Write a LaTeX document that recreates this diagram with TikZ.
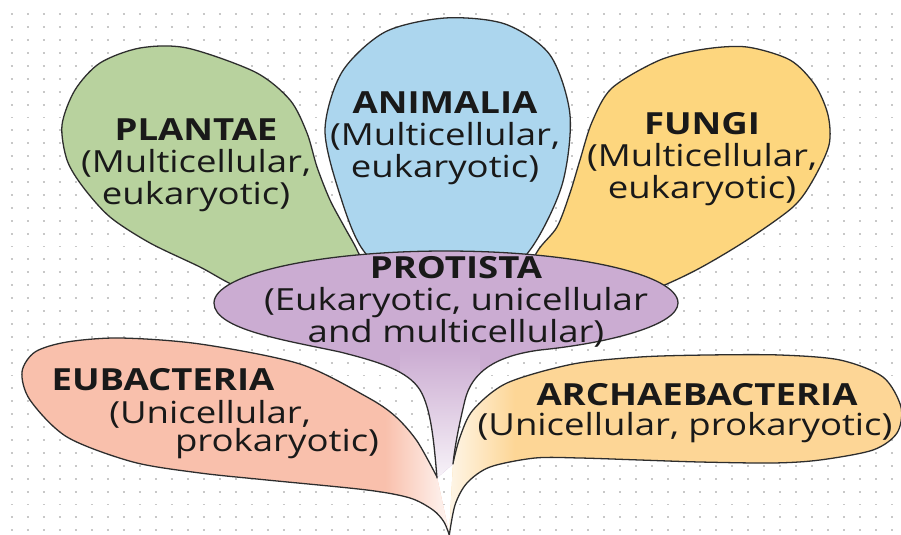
\documentclass[tikz,border=0pt]{standalone}
\usepackage{fontspec}
\setmainfont[FakeStretch=1.2]{Open Sans}
\definecolor{plantc}{RGB}{184,210,158}
\definecolor{animc}{RGB}{172,214,238}
\definecolor{fungc}{RGB}{253,214,126}
\definecolor{protc}{RGB}{203,172,210}
\definecolor{eubc}{RGB}{249,192,172}
\definecolor{archc}{RGB}{253,214,150}
\definecolor{edgec}{RGB}{45,45,45}
\definecolor{txtc}{RGB}{25,25,25}
\definecolor{dotc}{RGB}{200,200,200}
\newcommand{\plantPath}{plot[smooth cycle] coordinates {(358,252) (345,228) (330,200) (317,167) (307,133) (290,100) (255,72) (187,48) (140,48) (100,63) (75,90) (62,125) (67,160) (83,187) (110,217) (150,243) (200,267) (240,288) (300,305) (370,285)}}
\newcommand{\animPath}{plot[smooth cycle] coordinates {(363,250) (340,195) (325,130) (342,72) (385,32) (445,18) (505,24) (550,55) (570,115) (562,185) (530,250) (480,295) (410,292)}}
\newcommand{\fungPath}{plot[smooth cycle] coordinates {(537,252) (557,227) (570,193) (580,160) (592,122) (612,88) (660,60) (705,49) (747,47) (790,60) (815,85) (828,115) (829,145) (813,180) (793,207) (747,240) (700,268) (660,287) (600,310) (522,290)}}
\newcommand{\eubPath}{plot[smooth] coordinates {(437,477) (417,441) (395,416) (367,397) (300,364) (200,344) (120,338) (67,342) (35,352) (22,372) (30,400) (67,437) (133,462) (200,473) (267,480) (367,490) (410,498) (433,510) (444,522) (450,537)}}
\newcommand{\archPath}{plot[smooth] coordinates {(453,463) (460,437) (473,410) (507,383) (573,364) (640,357) (707,355) (780,355) (840,360) (883,377) (901,407) (897,433) (873,450) (820,460) (773,463) (700,462) (640,460) (580,458) (535,458) (490,467) (467,483) (455,505) (449,537)}}
\newcommand{\protPath}{(437,478) .. controls (434,442) and (431,408) .. (420,390) .. controls (408,371) and (380,362) .. (340,352) .. controls (290,341) and (214,330) .. (214,303) .. controls (214,274.3) and (317.9,251) .. (446,251) .. controls (574.1,251) and (678,274.3) .. (678,303) .. controls (678,325) and (610,343) .. (540,350) .. controls (495,356) and (472,372) .. (465,400) .. controls (459,425) and (455,445) .. (453,464)}
\begin{document}
\begin{tikzpicture}[x=0.03cm,y=-0.03cm,
  outline/.style={draw=edgec,line width=1.1pt,line join=round,line cap=round},
  dotrow/.style={draw=dotc,line width=1.6pt,dash pattern=on 1.6pt off 12.06pt},
  lbl/.style={font=\fontsize{26}{27.5}\selectfont,text=txtc,inner sep=0pt,align=center},
  ttl/.style={font=\fontsize{26}{27.5}\selectfont\bfseries,text=txtc,inner sep=0pt,align=center}]
\useasboundingbox (0,0) rectangle (901,534);
\fill[white] (0,0) rectangle (901,534);
\foreach \r in {0,...,40} {
  \draw[dotrow] (10.9,14.3+12.9*\r) -- (901,14.3+12.9*\r);
}
% upper petals
\fill[plantc] \plantPath;
\draw[outline] \plantPath;
\fill[animc] \animPath;
\draw[outline] \animPath;
\fill[fungc] \fungPath;
\draw[outline] \fungPath;
% lower petals
\fill[eubc] \eubPath -- cycle;
\begin{scope}
  \clip \eubPath -- cycle;
  \shade[left color=eubc,right color=white!88!eubc] (385,330) rectangle (452,540);
\end{scope}
\draw[outline] \eubPath;
\fill[archc] \archPath -- cycle;
\begin{scope}
  \clip \archPath -- cycle;
  \shade[left color=white!88!archc,right color=archc] (440,350) rectangle (515,540);
\end{scope}
\draw[outline] \archPath;
% protista
\fill[protc] \protPath -- cycle;
\begin{scope}
  \clip \protPath -- cycle;
  \shade[top color=protc,bottom color=white!88!protc] (400,350) rectangle (480,482);
\end{scope}
\draw[outline] \protPath;
% labels
\node[lbl] (plantae) at (196,165) {\textbf{PLANTAE}\\(Multicellular,\\eukaryotic)};
\node[lbl] (animalia) at (445,138) {\textbf{ANIMALIA}\\(Multicellular,\\eukaryotic)};
\node[lbl] (fungi) at (702,159) {\textbf{FUNGI}\\(Multicellular,\\eukaryotic)};
\node[lbl] (protista) at (456,302) {\textbf{PROTISTA}\\(Eukaryotic, unicellular\\and multicellular)};
\node[ttl] (eub1) at (163,380) {EUBACTERIA};
\node[lbl] (eub2) at (210,414) {(Unicellular,};
\node[lbl] (eub3) at (277,444) {prokaryotic)};
\node[ttl] (arch1) at (697,395) {ARCHAEBACTERIA};
\node[lbl] (arch2) at (685,428) {(Unicellular, prokaryotic)};
\end{tikzpicture}
\end{document}
